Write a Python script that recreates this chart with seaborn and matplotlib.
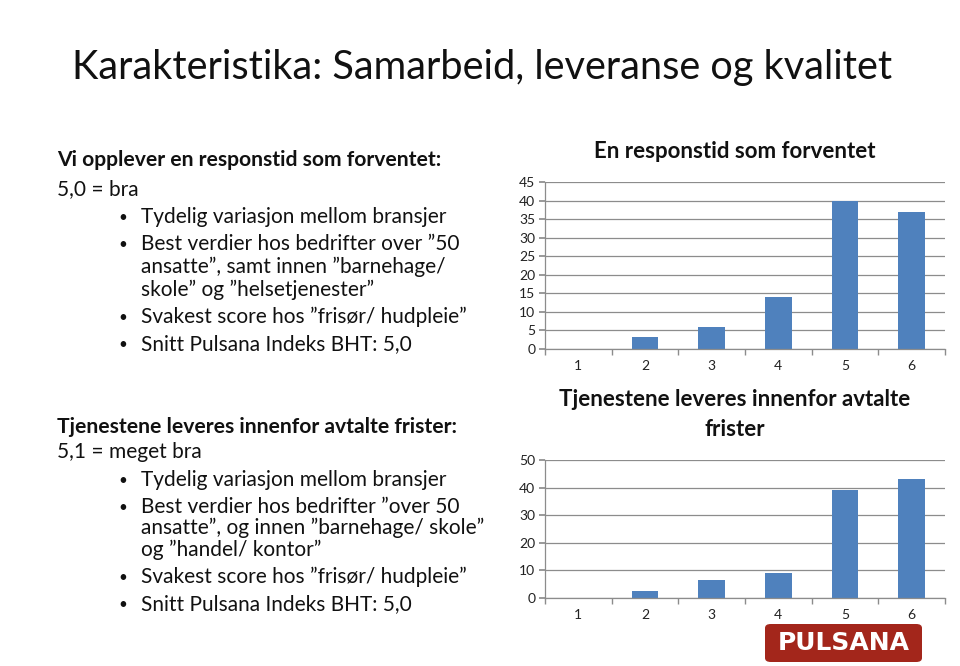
import matplotlib
matplotlib.use("Agg")
import matplotlib.pyplot as plt
import seaborn as sns
import pandas as pd
from matplotlib.patches import FancyBboxPatch

sns.set_theme(style="white")
plt.rcParams['font.family'] = ['Lato', 'DejaVu Sans']

# ---- data ----
categories = ["1", "2", "3", "4", "5", "6"]
responstid = [0, 3.3, 5.8, 14, 40, 36.8]
frister = [0, 2.5, 6.5, 9, 39, 43]
y1_ticks = [0, 5, 10, 15, 20, 25, 30, 35, 40, 45]
y2_ticks = [0, 10, 20, 30, 40, 50]

title_main = "Karakteristika: Samarbeid, leveranse og kvalitet"
chart1_title = "En responstid som forventet"
chart2_title = ["Tjenestene leveres innenfor avtalte", "frister"]

block1_head = "Vi opplever en responstid som forventet:"
block1_sub = "5,0 = bra"
block1_bullets = [
    ["Tydelig variasjon mellom bransjer"],
    ["Best verdier hos bedrifter over \u201d50",
     "ansatte\u201d, samt innen \u201dbarnehage/",
     "skole\u201d og \u201dhelsetjenester\u201d"],
    ["Svakest score hos \u201dfrisør/ hudpleie\u201d"],
    ["Snitt Pulsana Indeks BHT: 5,0"],
]
block2_head = "Tjenestene leveres innenfor avtalte frister:"
block2_sub = "5,1 = meget bra"
block2_bullets = [
    ["Tydelig variasjon mellom bransjer"],
    ["Best verdier hos bedrifter \u201dover 50",
     "ansatte\u201d, og innen \u201dbarnehage/ skole\u201d",
     "og \u201dhandel/ kontor\u201d"],
    ["Svakest score hos \u201dfrisør/ hudpleie\u201d"],
    ["Snitt Pulsana Indeks BHT: 5,0"],
]

W, H = 960, 666
fig = plt.figure(figsize=(9.6, 6.66), dpi=100)
fig.patch.set_facecolor("white")

def fx(px):
    return px / W

def fy(py):
    return 1 - py / H

BAR = "#4F81BD"
GRID = "#8C8C8C"
TXT = "#111111"

def make_chart(rect, values, ticks, ymax):
    ax = fig.add_axes(rect)
    df = pd.DataFrame({"cat": categories, "val": values})
    sns.barplot(data=df, x="cat", y="val", color=BAR, width=0.4, ax=ax,
                saturation=1, edgecolor="none")
    ax.set_ylim(0, ymax)
    ax.set_xlim(-0.5, len(categories) - 0.5)
    ax.set_yticks(ticks)
    ax.set_yticklabels([str(t) for t in ticks])
    ax.yaxis.grid(True, color=GRID, linewidth=0.9)
    ax.set_axisbelow(True)
    ax.set_xlabel("")
    ax.set_ylabel("")
    for s in ["top", "right"]:
        ax.spines[s].set_visible(False)
    for s in ["left", "bottom"]:
        ax.spines[s].set_color(GRID)
        ax.spines[s].set_linewidth(0.9)
    ax.tick_params(axis="y", left=True, length=4, color=GRID, labelsize=10,
                   labelcolor="#222222", pad=3)
    ax.tick_params(axis="x", bottom=False, length=0, labelsize=10,
                   labelcolor="#222222", pad=8)
    ax.set_xticks([i - 0.5 for i in range(len(categories) + 1)], minor=True)
    ax.tick_params(axis="x", which="minor", bottom=True, length=4, color=GRID)
    ax.set_facecolor("white")
    return ax

ax1 = make_chart([fx(545), fy(349), fx(945) - fx(545), fy(182) - fy(349)],
                 responstid, y1_ticks, 45)
ax2 = make_chart([fx(545), fy(598), fx(945) - fx(545), fy(460) - fy(598)],
                 frister, y2_ticks, 50)

fig.text(fx(735), fy(152), chart1_title, ha="center", va="center",
         fontsize=16, fontweight="bold", color=TXT)
for line, yy in zip(chart2_title, [400, 430]):
    fig.text(fx(735), fy(yy), line, ha="center", va="center",
             fontsize=16, fontweight="bold", color=TXT)

fig.text(fx(72), fy(68), title_main, ha="left", va="center",
         fontsize=28.6, color=TXT)

def block(y_head, y_sub, head, sub, bullets, ys):
    fig.text(fx(57), fy(y_head), head, ha="left", va="center",
             fontsize=15.2, fontweight="bold", color=TXT)
    fig.text(fx(57), fy(y_sub), sub, ha="left", va="center",
             fontsize=15, color=TXT)
    for lines, yy in zip(bullets, ys):
        fig.text(fx(118), fy(yy[0] + 1), "\u2022", ha="left", va="center",
                 fontsize=11, color=TXT)
        for ln, y_ln in zip(lines, yy):
            fig.text(fx(141), fy(y_ln), ln, ha="left", va="center",
                     fontsize=15, color=TXT)

block(160, 189, block1_head, block1_sub, block1_bullets,
      [[217], [244, 267, 290], [317], [344]])
block(427, 452, block2_head, block2_sub, block2_bullets,
      [[480], [507, 528, 550], [577], [604]])

# logo
logo = FancyBboxPatch((fx(765), fy(662)), fx(922) - fx(765), fy(624) - fy(662),
                      boxstyle="round,pad=0,rounding_size=0.006",
                      transform=fig.transFigure, facecolor="#A3261B",
                      edgecolor="none")
fig.patches.append(logo)
fig.text(fx(844), fy(643), "PULSANA", ha="center", va="center",
         fontsize=18, fontweight="bold", color="white", family="DejaVu Sans")

fig.savefig("out.png", dpi=100, facecolor="white")
